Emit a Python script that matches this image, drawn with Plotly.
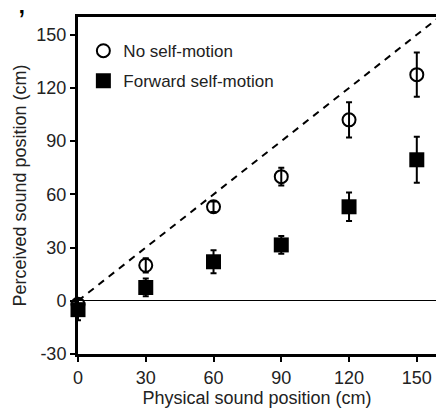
import plotly.graph_objects as go

x_pos = [0, 30, 60, 90, 120, 150]
no_motion = [-2, 20, 53, 70, 102, 127.5]
no_motion_err = [3, 4, 3, 5, 10, 12.5]
forward = [-5, 7.5, 22, 31.5, 53, 79.5]
forward_err = [6, 5, 6.5, 5, 8, 13]
diag = [0, 160]
x_ticks = [0, 30, 60, 90, 120, 150]
y_ticks = [-30, 0, 30, 60, 90, 120, 150]
y_tick_text = ["-30", "0", "30", "60", "90", "120", "150"]

FONT = "Liberation Sans, Arial, sans-serif"

fig = go.Figure()
fig.add_trace(go.Scatter(
    x=diag, y=diag, mode="lines", showlegend=False,
    line=dict(color="black", width=2, dash="7px,6px"), hoverinfo="skip"))
fig.add_trace(go.Scatter(
    x=x_pos, y=no_motion, mode="markers", name="No self-motion",
    legendgroup="a",
    marker=dict(symbol="circle-open", size=13, color="black", line=dict(width=2)),
    error_y=dict(type="data", array=no_motion_err, color="black", thickness=2, width=3),
    cliponaxis=False))
fig.add_trace(go.Scatter(
    x=x_pos, y=forward, mode="markers", name="Forward self-motion",
    legendgroup="b",
    marker=dict(symbol="square", size=15, color="black", line=dict(width=0)),
    error_y=dict(type="data", array=forward_err, color="black", thickness=2, width=3),
    cliponaxis=False))

fig.update_layout(
    width=436, height=408,
    margin=dict(l=78, r=0, t=17, b=54, autoexpand=False),
    paper_bgcolor="white", plot_bgcolor="white",
    font=dict(family=FONT, size=17, color="#222"),
    legend=dict(x=0.015, y=0.952, xanchor="left", yanchor="top",
                font=dict(size=17, family=FONT, color="#222"),
                bgcolor="rgba(0,0,0,0)", tracegroupgap=5, traceorder="grouped"),
    xaxis=dict(range=[0, 158.5], tickvals=x_ticks, showgrid=False, zeroline=False,
               showline=True, linecolor="black", linewidth=3, mirror=True,
               ticks="outside", ticklen=5, tickwidth=2, tickcolor="black",
               tickfont=dict(size=18),
               title=dict(text="Physical sound position (cm)", font=dict(size=18), standoff=4)),
    yaxis=dict(range=[-30, 160], tickvals=y_ticks, ticktext=y_tick_text, showgrid=False,
               zeroline=True, zerolinecolor="black", zerolinewidth=1.3,
               showline=True, linecolor="black", linewidth=3,
               ticks="outside", ticklen=5, tickwidth=2, tickcolor="black",
               tickfont=dict(size=18),
               title=dict(text="Perceived sound position (cm)", font=dict(size=18), standoff=6)),
)
fig.add_annotation(text="’", xref="paper", yref="paper", x=-0.156, y=1.0504,
                   xanchor="center", yanchor="top", showarrow=False,
                   font=dict(size=34, family=FONT, color="black"))

fig.write_html("out.html", config={"displayModeBar": False},
               post_script="document.body.style.margin='0px';")
